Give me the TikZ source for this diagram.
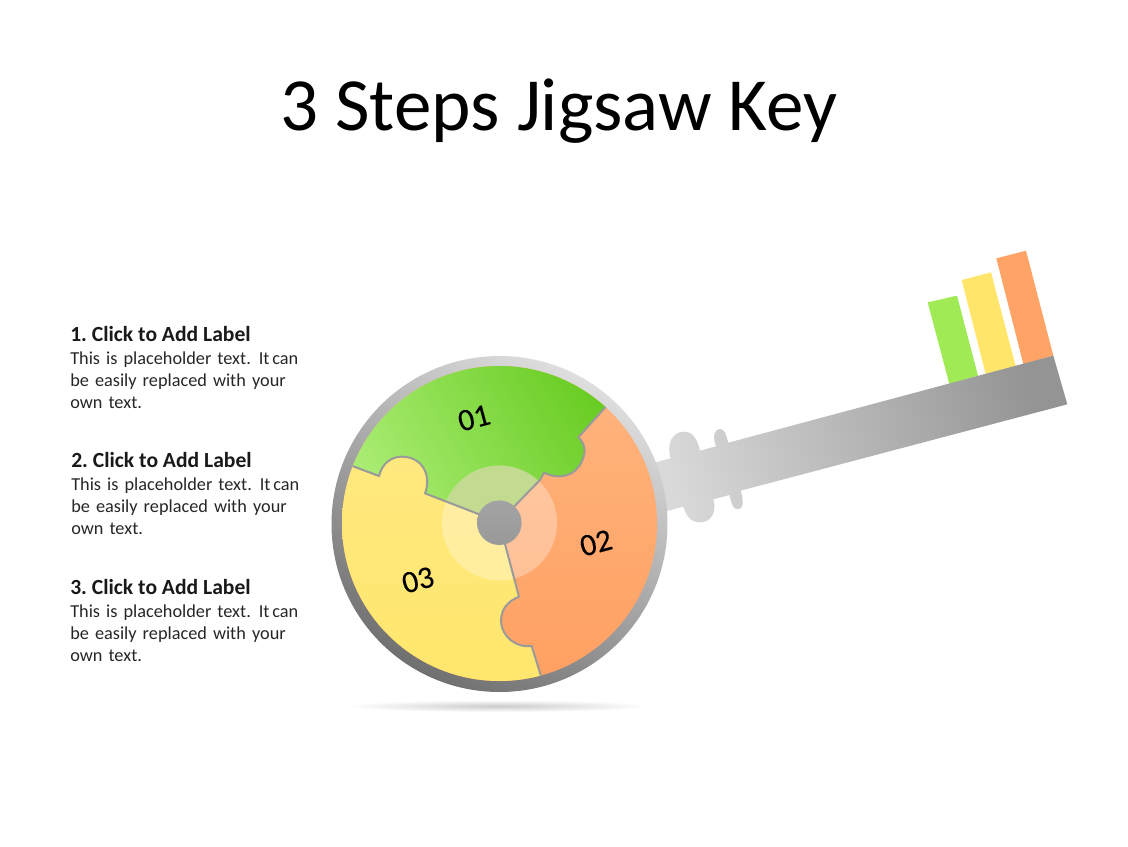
\documentclass[tikz,border=0pt]{standalone}
\usepackage{fontspec}
\setmainfont[WordSpace=0.7]{Carlito}
\newfontfamily\labelfont[WordSpace=1]{Carlito}
\newfontfamily\numfont[FakeBold=0.25]{Carlito}
\frenchspacing
\definecolor{txt}{HTML}{262626}
\definecolor{seam}{HTML}{9A9A9A}
\definecolor{HTMLorange}{HTML}{FFA466}
\definecolor{HTMLyellow}{HTML}{FFE66B}
\definecolor{HTMLgreen}{HTML}{A0EA55}
\definecolor{HTMLoranged}{HTML}{FFB57F}
\definecolor{HTMLorangel}{HTML}{FFA062}
\definecolor{HTMLyellowt}{HTML}{FFE97F}
\definecolor{HTMLgreend}{HTML}{68CC22}
\definecolor{HTMLgreenl}{HTML}{AEEE78}
\definecolor{HTMLgreeno}{HTML}{C3DB91}
\tikzset{
  titletext/.style={anchor=base,font=\labelfont\fontsize{56.3}{60}\selectfont,text=black,inner sep=0pt},
  labeltext/.style={anchor=base west,font=\labelfont\bfseries\fontsize{16.2}{18}\selectfont,text=black!90,inner sep=0pt},
  bodytext/.style={anchor=base west,font=\fontsize{13.7}{16.5}\selectfont,text=txt,inner sep=0pt,align=left,text width=200pt},
  numtext/.style={font=\numfont\fontsize{23.5}{28}\selectfont,text=black,rotate=15,inner sep=0pt},
  seamline/.style={draw=seam,line width=1.5pt,line join=round},
  zoomA/.style={shift={(320,340)},x=.25pt,y=-.25pt},
  zoomB/.style={shift={(640,240)},x=.25pt,y=-.25pt},
}
\newcommand{\bodylines}{This is placeholder text.\hspace{6pt}It\hspace{2pt}can\\be easily replaced with your\\own text.}
\def\seamA{(538,548) -- (585,497) -- (660,420) -- (672,398) .. controls (715,420) and (765,410) .. (785,365) .. controls (800,335) and (795,310) .. (775,292) -- (855,203) -- (900,153)}
\def\seamC{(538,548) -- (555,612) -- (597,770) .. controls (560,785) and (543,810) .. (543,845) .. controls (545,890) and (590,925) .. (635,918) -- (662,1005) -- (680,1060)}
\def\seamBrev{(40,356) -- (97,378) -- (177,408) .. controls (185,375) and (210,350) .. (245,350) .. controls (310,350) and (335,410) .. (315,460) -- (475,522) -- (538,548)}
\begin{document}
\begin{tikzpicture}[x=.75pt,y=-.75pt]
\useasboundingbox (0,0) rectangle (1128,846);
\node[titletext] (title) at (559,130) {3 Steps Jigsaw Key};

\node[labeltext] (l1) at (70,341) {1. Click to Add Label};
\node[bodytext] (b1) at (70,364) {\bodylines};
\node[labeltext] (l2) at (71,467) {2. Click to Add Label};
\node[bodytext] (b2) at (71,490) {\bodylines};
\node[labeltext] (l3) at (70,594) {3. Click to Add Label};
\node[bodytext] (b3) at (70,617) {\bodylines};

% shadow
\shade[inner color=black!20,outer color=white] (498,706) ellipse (152 and 6);

% key bars
\begin{scope}[zoomB]
\fill[fill=HTMLorange] (1069,55) -- (1158,32) -- (1240,347) -- (1150,372) -- cycle;
\fill[fill=HTMLyellow] (965,120) -- (1053,97) -- (1127,378) -- (1037,402) -- cycle;
\fill[fill=HTMLgreen] (863,187) -- (951,167) -- (1014,407) -- (928,432) -- cycle;
% key shaft
\shade[top color=black!42,bottom color=black!15,shading angle=-75]
 (0,680) -- (92,655) .. controls (78,610) and (98,575) .. (132,575)
 .. controls (160,575) and (172,600) .. (180,632) -- (228,619)
 .. controls (216,585) and (225,567) .. (240,567) .. controls (255,567) and (258,585) .. (265,608)
 -- (1240,347) -- (1282,493) -- (302,752)
 .. controls (312,785) and (310,808) .. (293,808) .. controls (278,808) and (275,790) .. (268,765)
 -- (220,778) .. controls (232,820) and (210,847) .. (180,847) .. controls (150,847) and (138,825) .. (130,800)
 -- (0,835) -- cycle;
\end{scope}

% ring
\shade[top color=black!13,bottom color=black!56,shading angle=-30] (499.5,524) circle (168);

\begin{scope}
\clip (499.5,523.5) circle (157.5);
\shade[top color=HTMLoranged,bottom color=HTMLorangel,shading angle=0] (499.5,523.5) circle (157.5);
\begin{scope}[zoomA]
\shade[top color=HTMLyellowt,bottom color=HTMLyellow] \seamC -- (680,1100) -- (0,1100) -- (0,340) -- \seamBrev -- cycle;
\shade[top color=HTMLgreend,bottom color=HTMLgreenl,shading angle=-60] \seamA -- (900,0) -- (0,0) -- (0,340) -- \seamBrev -- cycle;
\end{scope}
\fill[white,opacity=.3] (499.5,523) circle (57.5);
\begin{scope}[zoomA]
\begin{scope}
\clip \seamA -- (900,0) -- (0,0) -- (0,340) -- \seamBrev -- cycle;
\fill[HTMLgreeno] (538,549) circle (172);
\end{scope}
\draw[seamline] \seamA;
\draw[seamline] \seamC;
\draw[seamline] \seamBrev;
\end{scope}
\end{scope}

% hub
\shade[top color=black!36,bottom color=black!40] (499.3,522.7) circle (22.3);

\node[numtext] (n1) at (474,418) {01};
\node[numtext] (n2) at (596,543) {02};
\node[numtext] (n3) at (418,580) {03};
\end{tikzpicture}
\end{document}
